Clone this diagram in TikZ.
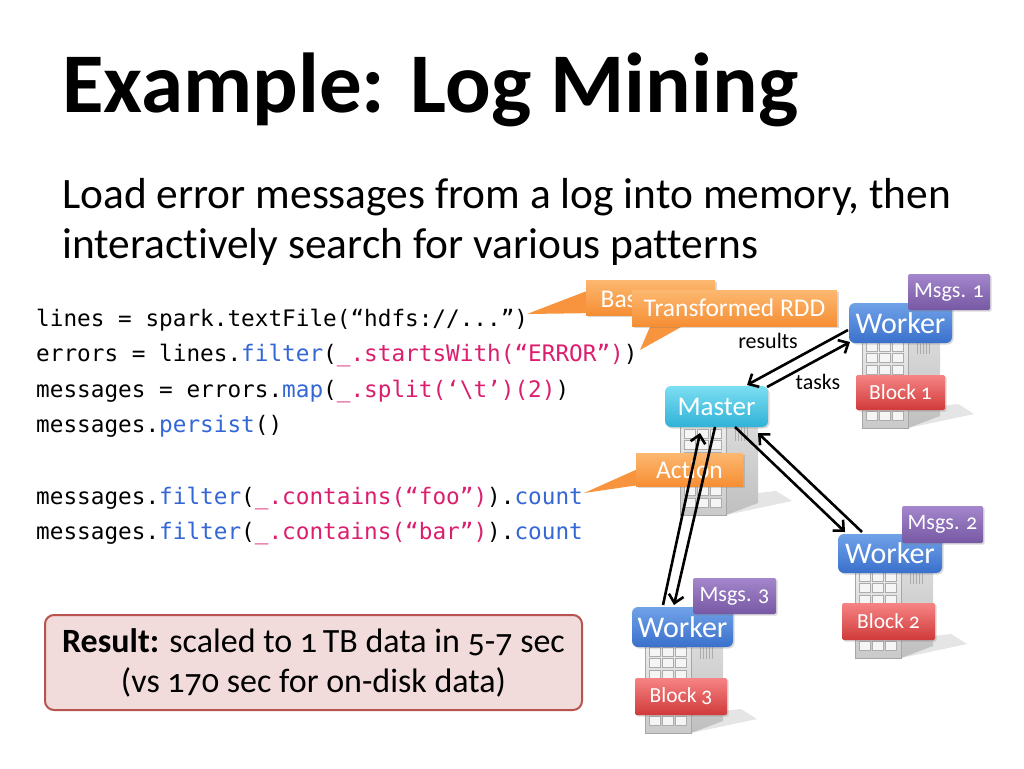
\documentclass[tikz,border=0pt]{standalone}
\usepackage{fontspec}
\setmainfont{Carlito}[Numbers=OldStyle, Ligatures={NoCommon}]
\newfontfamily\codefont{DejaVu Sans Mono}
\usetikzlibrary{arrows.meta,shadows}
\definecolor{cblue}{RGB}{52,103,214}
\definecolor{cpink}{RGB}{220,30,110}
\definecolor{orA}{RGB}{252,184,112}
\definecolor{orB}{RGB}{246,142,52}
\definecolor{wkA}{RGB}{112,162,232}
\definecolor{wkB}{RGB}{58,112,204}
\definecolor{msA}{RGB}{164,134,204}
\definecolor{msB}{RGB}{118,88,164}
\definecolor{bkA}{RGB}{246,132,132}
\definecolor{bkB}{RGB}{208,58,58}
\definecolor{maA}{RGB}{124,222,242}
\definecolor{maB}{RGB}{48,178,214}
\definecolor{resfill}{RGB}{242,220,219}
\definecolor{resdraw}{RGB}{184,84,80}
\newcommand\cb[1]{\textcolor{cblue}{#1}}
\newcommand\cp[1]{\textcolor{cpink}{#1}}
\tikzset{
  tagbase/.style={text=white, inner sep=0pt, drop shadow={shadow xshift=1.5pt, shadow yshift=-1.5pt, opacity=0.3}},
  workerbox/.style={tagbase, top color=wkA, bottom color=wkB, rounded corners=6pt, font=\fontsize{30}{30}\selectfont},
  masterbox/.style={tagbase, top color=maA, bottom color=maB, rounded corners=6pt, font=\fontsize{27}{27}\selectfont},
  msgsbox/.style={tagbase, top color=msA, bottom color=msB, rounded corners=1.5pt, font=\fontsize{22}{22}\selectfont},
  blockbox/.style={tagbase, top color=bkA, bottom color=bkB, rounded corners=1.5pt, font=\fontsize{21.5}{21.5}\selectfont},
  calloutbox/.style={tagbase, top color=orA, bottom color=orB, font=\fontsize{25.5}{25.5}\selectfont},
  tailfill/.style={fill=orB!85!orA},
  codeline/.style={anchor=base west, inner sep=0pt, font=\codefont\fontsize{22.7}{22.7}\selectfont},
  conn/.style={line width=2.6pt, -{Straight Barb[length=8pt,width=15pt]}},
  lbl/.style={inner sep=0pt, font=\fontsize{22}{22}\selectfont},
  srv/.pic={
    \fill[black!10] (46,100) -- (112,86) -- (96,76) -- (78,78) -- cycle;
    \shade[top color=gray!25, bottom color=gray!50] (46,0) -- (78,-6) -- (78,88) -- (46,100) -- cycle;
    \foreach \vv in {0,...,4} { \draw[gray!65, line width=1pt] (55+\vv*3,6) -- ++(0,20); }
    \shade[top color=gray!12, bottom color=gray!42, draw=gray!70] (0,0) rectangle (46,100);
    \foreach \ii in {0,...,6} { \foreach \jj in {0,1,2} {
      \fill[gray!8, draw=gray!65, line width=0.6pt] (4+\jj*13,14+\ii*11.5) rectangle ++(11.5,9); } }
    \fill[green!65!black] (33,6) rectangle (42,9.5);
  }
}
\begin{document}
\begin{tikzpicture}[x=1pt,y=-1pt]
\useasboundingbox (0,0) rectangle (1024,768);
\fill[white] (0,0) rectangle (1024,768);

% title and subtitle
\node[anchor=base west, inner sep=0pt, font=\bfseries\fontsize{85}{85}\selectfont] (title) at (62,112) {Example: Log Mining};
\node[anchor=base west, inner sep=0pt, font=\fontsize{43.4}{43.4}\selectfont] (sub1) at (62,208) {Load error messages from a log into memory, then};
\node[anchor=base west, inner sep=0pt, font=\fontsize{43.4}{43.4}\selectfont] (sub2) at (62,258) {interactively search for various patterns};

% code
\node[codeline] (c1) at (36,326) {lines = spark.textFile(“hdfs://...”)};
\node[codeline] (c2) at (36,361) {errors = lines.\cb{filter}(\cp{\_.startsWith(“ERROR”)})};
\node[codeline] (c3) at (36,397) {messages = errors.\cb{map}(\cp{\_.split(‘\textbackslash t’)(2)})};
\node[codeline] (c4) at (36,432) {messages.\cb{persist}()};
\node[codeline] (c5) at (36,504) {messages.\cb{filter}(\cp{\_.contains(“foo”)}).\cb{count}};
\node[codeline] (c6) at (36,539) {messages.\cb{filter}(\cp{\_.contains(“bar”)}).\cb{count}};

% result box
\node[fill=resfill, draw=resdraw, line width=2pt, rounded corners=9pt, minimum width=537pt, minimum height=95pt, align=center, font=\fontsize{34}{40}\selectfont] (res) at (313.5,662.5) {\textbf{Result:} scaled to 1\,TB data in 5-7 sec\\(vs 170 sec for on-disk data)};

% servers
\pic at (862,328) {srv};
\pic at (680,415) {srv};
\pic at (855,558) {srv};
\pic at (645,633) {srv};

% worker 1
\node[workerbox, minimum width=103pt, minimum height=40pt] (w1) at (900.5,323) {Worker};
\node[msgsbox, minimum width=82pt, minimum height=36pt] (m1) at (949,292) {Msgs. 1};
\node[blockbox, minimum width=89pt, minimum height=35pt] (b1) at (900.5,392.5) {Block 1};
% worker 2
\node[workerbox, minimum width=104pt, minimum height=39pt] (w2) at (890,553.5) {Worker};
\node[msgsbox, minimum width=81pt, minimum height=37pt] (m2) at (942.5,524.5) {Msgs. 2};
\node[blockbox, minimum width=93pt, minimum height=37pt] (b2) at (888.5,621.5) {Block 2};
% worker 3
\node[workerbox, minimum width=101pt, minimum height=40pt] (w3) at (682.5,627) {Worker};
\node[msgsbox, minimum width=83pt, minimum height=36pt] (m3) at (734.5,596) {Msgs. 3};
\node[blockbox, minimum width=92pt, minimum height=37pt] (b3) at (681,696.5) {Block 3};

% callouts
\coordinate (tb) at (527,314);
\fill[tailfill] (tb) -- (592,289) -- (600,313) -- cycle;
\node[calloutbox, minimum width=129pt, minimum height=35pt] (base) at (650.5,297.5) {};
\node[text=white, inner sep=0pt, font=\fontsize{25.5}{25.5}\selectfont, anchor=base] (basetxt) at (650.5,307) {Base RDD};
\coordinate (tt) at (640,350);
\fill[tailfill] (tt) -- (652,322) -- (690,322) -- cycle;
\node[calloutbox, minimum width=205pt, minimum height=36pt] (trans) at (734.5,308) {Transformed RDD};
\coordinate (ta) at (584,493);
\fill[tailfill] (ta) -- (640,468) -- (646,484) -- cycle;
\node[calloutbox, minimum width=107pt, minimum height=33pt] (act) at (689.5,469.5) {Action};

% master
\node[masterbox, minimum width=103pt, minimum height=41pt] (mas) at (716.5,406.5) {Master};

% connectors
\coordinate (a1s) at (848,330); \coordinate (a1e) at (747,385);
\coordinate (a2s) at (767,387); \coordinate (a2e) at (850,342);
\coordinate (a3s) at (735,427); \coordinate (a3e) at (845,532);
\coordinate (a4s) at (862,532); \coordinate (a4e) at (758,433);
\coordinate (a5s) at (663,605); \coordinate (a5e) at (700,433);
\coordinate (a6s) at (715,427); \coordinate (a6e) at (674,605);
\draw[conn] (a1s) -- (a1e);
\draw[conn] (a2s) -- (a2e);
\draw[conn] (a3s) -- (a3e);
\draw[conn] (a4s) -- (a4e);
\draw[conn] (a5s) -- (a5e);
\draw[conn] (a6s) -- (a6e);
\node[lbl] (lres) at (768,341) {results};
\node[lbl] (ltask) at (818,382) {tasks};
\end{tikzpicture}
\end{document}
